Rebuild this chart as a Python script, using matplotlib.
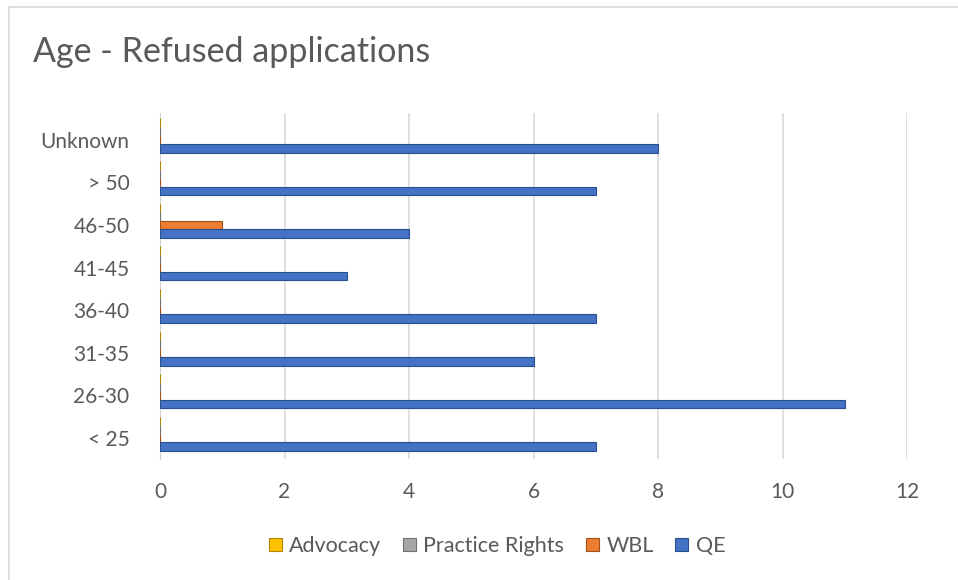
import matplotlib
matplotlib.use("Agg")
import matplotlib.pyplot as plt
import matplotlib.lines as mlines
import numpy as np

# data (bottom to top as drawn)
categories = ["< 25", "26-30", "31-35", "36-40", "41-45", "46-50", "> 50", "Unknown"]
advocacy = [0, 0, 0, 0, 0, 0, 0, 0]
practice_rights = [0, 0, 0, 0, 0, 0, 0, 0]
wbl = [0, 0, 0, 0, 0, 1, 0, 0]
qe = [7, 11, 6, 7, 3, 4, 7, 8]

series = [
    ("Advocacy", advocacy, "#FFC000", "#B38600"),
    ("Practice Rights", practice_rights, "#A5A5A5", "#707070"),
    ("WBL", wbl, "#ED7D31", "#A0521C"),
    ("QE", qe, "#4472C4", "#2B4E8C"),
]

plt.rcParams["font.family"] = ["Lato", "DejaVu Sans"]
txt = "#595959"

fig = plt.figure(figsize=(9.58, 5.8), dpi=100)
ax = fig.add_axes([0.167, 0.208, 0.780, 0.598])

# chart frame: only left and top edges are inside the picture
fig.lines.append(mlines.Line2D([0.009, 0.009], [0.0, 0.988], transform=fig.transFigure,
                               color="#D9D9D9", linewidth=1.2))
fig.lines.append(mlines.Line2D([0.009, 1.0], [0.988, 0.988], transform=fig.transFigure,
                               color="#D9D9D9", linewidth=1.2))

y = np.arange(len(categories))
h = 0.2
offsets = [0.4, 0.2, 0.0, -0.2]
for (name, vals, col, edge), off in zip(series, offsets):
    ax.barh(y + off, vals, height=h, color=col, edgecolor=edge, linewidth=0.8,
            label=name, zorder=3)

ax.set_xlim(0, 12)
ax.set_ylim(-0.5, 7.64)
ax.set_xticks(range(0, 13, 2))
ax.set_yticks(y)
ax.set_yticklabels(categories)
ax.grid(axis="x", color="#D9D9D9", linewidth=1.2, zorder=0)
for s in ["top", "right", "bottom"]:
    ax.spines[s].set_visible(False)
ax.spines["left"].set_color("#D0D0D0")
ax.tick_params(length=0, labelsize=15, colors=txt)
ax.tick_params(axis="x", pad=16)
ax.tick_params(axis="y", pad=22)

fig.text(0.034, 0.91, "Age - Refused applications", fontsize=24.5, color=txt, va="center")

ax.legend(loc="upper center", bbox_to_anchor=(0.451, -0.165), ncol=4, frameon=False,
          fontsize=15.5, labelcolor=txt, handlelength=0.6, handleheight=0.6,
          handletextpad=0.35, columnspacing=1.0)

fig.savefig("out.png", dpi=100)
